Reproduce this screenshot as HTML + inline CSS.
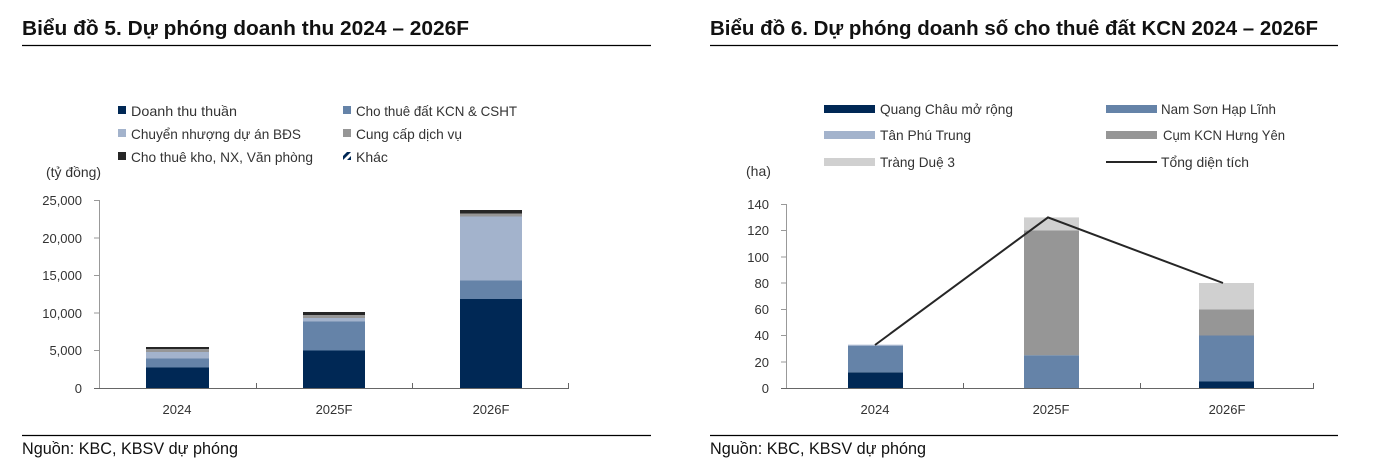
<!DOCTYPE html>
<html><head><meta charset="utf-8"><style>
html,body{margin:0;padding:0;background:#fff;}
svg{display:block;font-family:"Liberation Sans Narrow","Liberation Sans",sans-serif;}
</style></head><body>
<svg width="1382" height="473" viewBox="0 0 1382 473" xmlns="http://www.w3.org/2000/svg">
<text x="22" y="35" font-size="20" font-weight="bold" fill="#111" textLength="447" lengthAdjust="spacingAndGlyphs">Biểu đồ 5. Dự phóng doanh  thu 2024 – 2026F</text>
<line x1="22" y1="45.5" x2="651" y2="45.5" stroke="#000" stroke-width="1.2"/>
<text x="710" y="35" font-size="20" font-weight="bold" fill="#111" textLength="608" lengthAdjust="spacingAndGlyphs">Biểu đồ 6. Dự phóng doanh số cho thuê đất KCN 2024 – 2026F</text>
<line x1="710" y1="45.5" x2="1338" y2="45.5" stroke="#000" stroke-width="1.2"/>
<line x1="22" y1="435.5" x2="651" y2="435.5" stroke="#000" stroke-width="1.2"/>
<text x="22" y="454" font-size="17" fill="#111" textLength="216" lengthAdjust="spacingAndGlyphs">Nguồn: KBC, KBSV dự phóng</text>
<line x1="710" y1="435.5" x2="1338" y2="435.5" stroke="#000" stroke-width="1.2"/>
<text x="710" y="454" font-size="17" fill="#111" textLength="216" lengthAdjust="spacingAndGlyphs">Nguồn: KBC, KBSV dự phóng</text>

<!-- LEFT CHART -->
<g font-size="14" fill="#333">
<rect x="118" y="106" width="8" height="8" fill="#002855"/><text x="131" y="116" textLength="106" lengthAdjust="spacingAndGlyphs">Doanh thu thuần</text>
<rect x="343" y="106" width="8" height="8" fill="#6583a8"/><text x="356" y="116" textLength="161" lengthAdjust="spacingAndGlyphs">Cho thuê đất KCN &amp; CSHT</text>
<rect x="118" y="129" width="8" height="8" fill="#a3b3cc"/><text x="131" y="139" textLength="170" lengthAdjust="spacingAndGlyphs">Chuyển nhượng dự án BĐS</text>
<rect x="343" y="129" width="8" height="8" fill="#969696"/><text x="356" y="139" textLength="106" lengthAdjust="spacingAndGlyphs">Cung cấp dịch vụ</text>
<rect x="118" y="152" width="8" height="8" fill="#262626"/><text x="131" y="162" textLength="182" lengthAdjust="spacingAndGlyphs">Cho thuê kho, NX, Văn phòng</text>
<g><rect x="343" y="152" width="8" height="8" fill="#fff"/><path d="M343 156 L347 152 L351 152 L343 160Z M351 156 L347 160 L351 160Z" fill="#002855"/></g><text x="356" y="162">Khác</text>
<text x="46" y="177" textLength="55" lengthAdjust="spacingAndGlyphs">(tỷ đồng)</text>
</g>
<g font-size="13" fill="#333" text-anchor="end">
<text x="82" y="205">25,000</text>
<text x="82" y="243">20,000</text>
<text x="82" y="280">15,000</text>
<text x="82" y="318">10,000</text>
<text x="82" y="355">5,000</text>
<text x="82" y="393">0</text>
</g>
<g stroke="#999" stroke-width="1">
<line x1="99.5" y1="200" x2="99.5" y2="388"/>
<line x1="94" y1="200.5" x2="99.5" y2="200.5"/>
<line x1="94" y1="238" x2="99.5" y2="238"/>
<line x1="94" y1="275.5" x2="99.5" y2="275.5"/>
<line x1="94" y1="313" x2="99.5" y2="313"/>
<line x1="94" y1="350.5" x2="99.5" y2="350.5"/>
</g>
<rect x="146" y="367.5" width="63" height="20.5" fill="#002855"/>
<rect x="146" y="358.5" width="63" height="9" fill="#6583a8"/>
<rect x="146" y="352" width="63" height="6.5" fill="#a3b3cc"/>
<rect x="146" y="349" width="63" height="3" fill="#969696"/>
<rect x="146" y="347" width="63" height="2" fill="#262626"/>
<rect x="303" y="350.5" width="62" height="37.5" fill="#002855"/>
<rect x="303" y="321.5" width="62" height="29" fill="#6583a8"/>
<rect x="303" y="318" width="62" height="3.5" fill="#a3b3cc"/>
<rect x="303" y="315" width="62" height="3" fill="#969696"/>
<rect x="303" y="312" width="62" height="3" fill="#262626"/>
<rect x="460" y="299" width="62" height="89" fill="#002855"/>
<rect x="460" y="280.5" width="62" height="18.5" fill="#6583a8"/>
<rect x="460" y="216.5" width="62" height="64" fill="#a3b3cc"/>
<rect x="460" y="213.5" width="62" height="3" fill="#969696"/>
<rect x="460" y="210" width="62" height="3.5" fill="#262626"/>
<g stroke="#666" stroke-width="1">
<line x1="94" y1="388.5" x2="569" y2="388.5"/>
<line x1="256.5" y1="383" x2="256.5" y2="388"/>
<line x1="412.5" y1="383" x2="412.5" y2="388"/>
<line x1="568.5" y1="383" x2="568.5" y2="388"/>
</g>
<g font-size="13" fill="#333" text-anchor="middle">
<text x="177" y="414">2024</text>
<text x="334" y="414">2025F</text>
<text x="491" y="414">2026F</text>
</g>

<!-- RIGHT CHART -->
<g font-size="14" fill="#333">
<rect x="824" y="105" width="51" height="8" fill="#002855"/><text x="880" y="114" textLength="133" lengthAdjust="spacingAndGlyphs">Quang Châu mở rộng</text>
<rect x="1106" y="105" width="51" height="8" fill="#6583a8"/><text x="1161" y="114" textLength="115" lengthAdjust="spacingAndGlyphs">Nam Sơn Hạp Lĩnh</text>
<rect x="824" y="131" width="51" height="8" fill="#a3b3cc"/><text x="880" y="140" textLength="91" lengthAdjust="spacingAndGlyphs">Tân Phú Trung</text>
<rect x="1106" y="131" width="51" height="8" fill="#969696"/><text x="1163" y="140" textLength="122" lengthAdjust="spacingAndGlyphs">Cụm KCN Hưng Yên</text>
<rect x="824" y="158" width="51" height="8" fill="#d0d0d0"/><text x="880" y="167" textLength="75" lengthAdjust="spacingAndGlyphs">Tràng Duệ 3</text>
<line x1="1106" y1="162" x2="1157" y2="162" stroke="#262626" stroke-width="2"/><text x="1161" y="167" textLength="88" lengthAdjust="spacingAndGlyphs">Tổng diện tích</text>
<text x="746" y="176">(ha)</text>
</g>
<g font-size="13" fill="#333" text-anchor="end">
<text x="769" y="209">140</text>
<text x="769" y="235">120</text>
<text x="769" y="262">100</text>
<text x="769" y="288">80</text>
<text x="769" y="314">60</text>
<text x="769" y="340">40</text>
<text x="769" y="367">20</text>
<text x="769" y="393">0</text>
</g>
<g stroke="#999" stroke-width="1">
<line x1="786.5" y1="204" x2="786.5" y2="388"/>
<line x1="781" y1="204.5" x2="786.5" y2="204.5"/>
<line x1="781" y1="230.5" x2="786.5" y2="230.5"/>
<line x1="781" y1="257" x2="786.5" y2="257"/>
<line x1="781" y1="283" x2="786.5" y2="283"/>
<line x1="781" y1="309.5" x2="786.5" y2="309.5"/>
<line x1="781" y1="335.5" x2="786.5" y2="335.5"/>
<line x1="781" y1="362" x2="786.5" y2="362"/>
</g>
<rect x="848" y="372.3" width="55" height="15.7" fill="#002855"/>
<rect x="848" y="346" width="55" height="26.3" fill="#6583a8"/>
<rect x="848" y="344.7" width="55" height="1.3" fill="#a3b3cc"/>
<rect x="1024" y="355.2" width="55" height="32.8" fill="#6583a8"/>
<rect x="1024" y="230.5" width="55" height="124.7" fill="#969696"/>
<rect x="1024" y="217.4" width="55" height="13.1" fill="#d0d0d0"/>
<rect x="1199" y="381.5" width="55" height="6.5" fill="#002855"/>
<rect x="1199" y="335.5" width="55" height="46" fill="#6583a8"/>
<rect x="1199" y="309.3" width="55" height="26.2" fill="#969696"/>
<rect x="1199" y="283" width="55" height="26.3" fill="#d0d0d0"/>
<g stroke="#666" stroke-width="1">
<line x1="781" y1="388.5" x2="1314" y2="388.5"/>
<line x1="963.5" y1="383" x2="963.5" y2="388"/>
<line x1="1140.5" y1="383" x2="1140.5" y2="388"/>
<line x1="1313.5" y1="383" x2="1313.5" y2="388"/>
</g>
<polyline points="875,345 1048,217.4 1223,283" fill="none" stroke="#262626" stroke-width="2"/>
<g font-size="13" fill="#333" text-anchor="middle">
<text x="875" y="414">2024</text>
<text x="1051" y="414">2025F</text>
<text x="1227" y="414">2026F</text>
</g>
</svg>
</body></html>
